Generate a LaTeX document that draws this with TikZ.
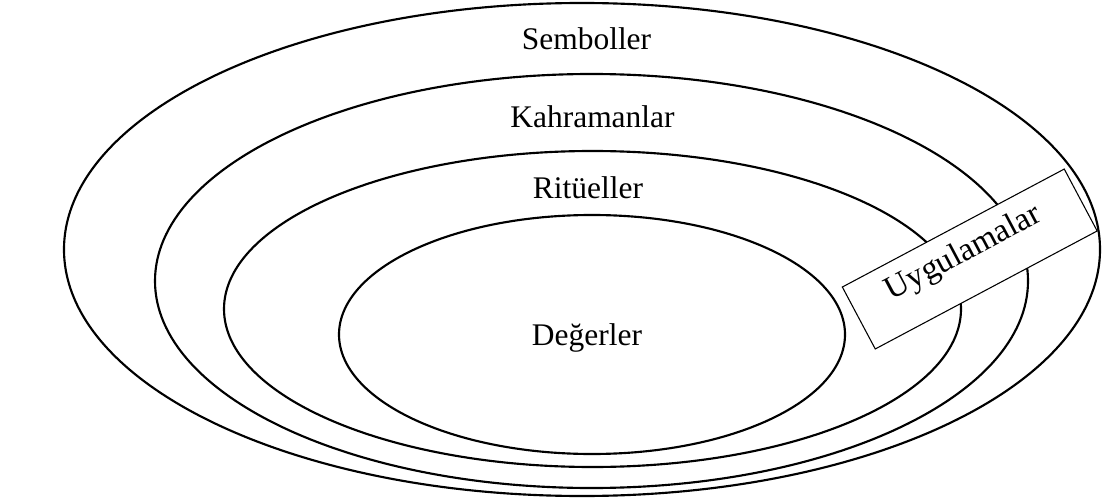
\documentclass[tikz,border=0pt]{standalone}
\usepackage{fontspec}
\setmainfont{Liberation Serif}
\begin{document}
\begin{tikzpicture}[x=0.75pt,y=-0.75pt,
  ring/.style={draw=black,line width=1.6pt},
  lbl/.style={font=\fontsize{23.6}{28}\selectfont,inner sep=0pt,anchor=base},
  uygbox/.style={draw=black,fill=white,line width=0.8pt,inner sep=0pt,
    minimum width=188.5pt,minimum height=52.6pt,rotate=28}]
\useasboundingbox (0,0) rectangle (1102,499);
\fill[white] (0,0) rectangle (1102,499);
% rings
\draw[ring] (582,249.5) ellipse [x radius=518, y radius=246.5];
\draw[ring] (591.5,281) ellipse [x radius=436.5, y radius=207];
\draw[ring] (592.5,309) ellipse [x radius=368.5, y radius=158];
\draw[ring] (592,334.5) ellipse [x radius=253, y radius=119.5];
% practices box
\node[uygbox] (box) at (969.75,259) {};
\node[lbl,font=\fontsize{24.6}{29}\selectfont,rotate=28] (uyg) at (967.5,260.5) {Uygulamalar};
% labels
\node[lbl] (semb) at (586.5,50) {Semboller};
\node[lbl] (kahr) at (592.5,128) {Kahramanlar};
\node[lbl] (rit) at (588,199) {Ritüeller};
\node[lbl] (deg) at (587,345) {Değerler};
\end{tikzpicture}
\end{document}
